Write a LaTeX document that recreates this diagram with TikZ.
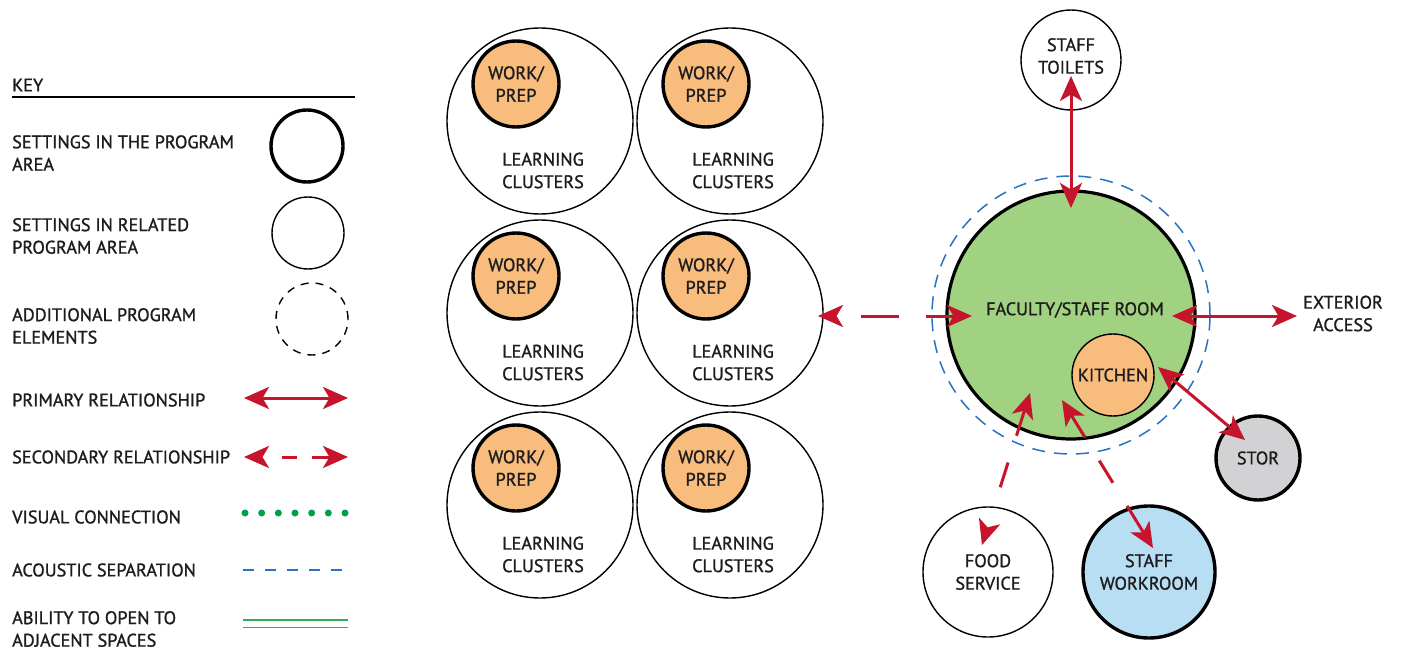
\documentclass[tikz,border=0pt]{standalone}
\usepackage{fontspec}
\setmainfont{PT Sans}
\newfontfamily\lblfam{PT Sans}[FakeBold=1.2]
\usetikzlibrary{arrows.meta,calc}
\definecolor{arrred}{RGB}{198,20,44}
\definecolor{facgreen}{RGB}{160,210,130}
\definecolor{wporange}{RGB}{248,188,124}
\definecolor{wrblue}{RGB}{184,222,244}
\definecolor{storgray}{RGB}{210,210,213}
\definecolor{acblue}{RGB}{40,115,195}
\definecolor{visgreen}{RGB}{0,160,75}
\definecolor{opengreen}{RGB}{50,175,85}
\definecolor{txt}{RGB}{30,28,28}
\newcommand\lblfont{\lblfam\fontsize{18.2}{22.5}\selectfont}
\tikzset{
  circbase/.style={circle, draw=black, inner sep=0pt, text=txt, font=\lblfont, align=center},
  thincirc/.style={circbase, line width=1.4pt, minimum size=#1},
  thickcirc/.style={circbase, line width=3.4pt, minimum size=#1},
  lbl/.style={font=\lblfont, text=txt, inner sep=0pt, align=center},
  keytext/.style={lbl, align=left, anchor=west},
  prim/.style={draw=arrred, line width=3pt,
    {Stealth[length=25pt,width=22pt,inset=6.5pt]}-{Stealth[length=25pt,width=22pt,inset=6.5pt]}},
  sec/.style={prim, dash pattern={#1}},
}
\begin{document}
\begin{tikzpicture}[x=1pt,y=-1pt]
\fill[white] (0,0) rectangle (1401,650);
\useasboundingbox (0,0) rectangle (1401,650);

% ---------- KEY ----------
\node[keytext] (keyT) at (12,85) {KEY};
\draw[line width=2pt, black] (12,97.5) -- (355,97.5);
\node[keytext] (k1) at (12,153) {SETTINGS IN THE PROGRAM\\AREA};
\node[thickcirc=72pt] (k1c) at (307,146) {};
\node[keytext] (k2) at (12,236) {SETTINGS IN RELATED\\PROGRAM AREA};
\node[thincirc=72pt] (k2c) at (308,233) {};
\node[keytext] (k3) at (12,326) {ADDITIONAL PROGRAM\\ELEMENTS};
\node[thincirc=72pt, dash pattern=on 8pt off 7pt] (k3c) at (312,319) {};
\node[keytext] (k4) at (12,400) {PRIMARY RELATIONSHIP};
\coordinate (k4a) at (244,398); \coordinate (k4b) at (348,398);
\draw[prim] (k4a) -- (k4b);
\node[keytext] (k5) at (12,457) {SECONDARY RELATIONSHIP};
\coordinate (k5a) at (244,457); \coordinate (k5b) at (348,457);
\draw[sec={on 0pt off 20pt on 15pt off 15pt on 100pt}] (k5a) -- (k5b);
\node[keytext] (k6) at (12,517) {VISUAL CONNECTION};
\coordinate (k6a) at (245,513); \coordinate (k6b) at (345.5,513);
\draw[visgreen, line width=7pt, line cap=round, dash pattern=on 0pt off 16.667pt] (k6a) -- (k6b);
\node[keytext] (k7) at (12,570) {ACOUSTIC SEPARATION};
\coordinate (k7a) at (243,570); \coordinate (k7b) at (348,570);
\draw[acblue, line width=1.3pt, dash pattern=on 11pt off 11pt] (k7a) -- (k7b);
\node[keytext] (k8) at (12,629) {ABILITY TO OPEN TO\\ADJACENT SPACES};
\coordinate (k8a) at (243,620); \coordinate (k8b) at (348,620);
\coordinate (k8c) at (243,627.5); \coordinate (k8d) at (348,627.5);
\draw[opengreen, line width=1.5pt] (k8a) -- (k8b);
\draw[opengreen, line width=1.5pt] (k8c) -- (k8d);

% ---------- LEARNING CLUSTERS ----------
\foreach \r/\y in {1/121,2/313,3/505}{
  \foreach \c/\x in {1/540,2/730}{
    \node[thincirc=186pt] (c\r\c) at (\x,\y) {};
    \node[thickcirc=86pt, fill=wporange] (w\r\c) at ($(c\r\c)+(-24,-37)$) {WORK/\\PREP};
    \node[lbl] (t\r\c) at ($(c\r\c)+(3,49.5)$) {LEARNING\\CLUSTERS};
  }
}

% ---------- FACULTY / STAFF ----------
\node[circle, draw=acblue, line width=1.5pt, dash pattern=on 13pt off 9pt, minimum size=278pt, inner sep=0pt] (acou) at (1071,315) {};
\node[thickcirc=248pt, line width=3.2pt, fill=facgreen] (fac) at (1071,315) {};
\node[lbl] (facT) at (1075,310) {FACULTY/STAFF ROOM};
\node[thincirc=82pt, fill=wporange] (kit) at (1113,375) {KITCHEN};
\node[thincirc=100pt] (toil) at (1071,60) {};
\node[lbl] (toilT) at (1071,56) {STAFF\\TOILETS};
\node[thickcirc=84pt, fill=storgray] (stor) at (1258,458) {STOR};
\node[thincirc=130pt] (food) at (988,572) {FOOD\\SERVICE};
\node[thickcirc=132pt, fill=wrblue] (work) at (1149,572) {STAFF\\WORKROOM};
\node[lbl] (ext) at (1343,313.5) {EXTERIOR\\ACCESS};

% ---------- RELATIONSHIPS ----------
\draw[prim] ($(toil)+(0,16)$) -- ($(fac)+(0,-107)$);
\draw[prim] ($(fac)+(101,1)$) -- ($(ext.west)+(-6,2.5)$);
\draw[sec={on 0pt off 25pt on 38pt off 27pt on 100pt}] ($(c22)+(88,3)$) -- ($(fac)+(-99,1)$);
\draw[prim] ($(kit)+(45,-8)$) -- ($(stor)+(-13,-18)$);
\draw[sec={on 0pt off 43pt on 26pt off 28pt on 100pt}] ($(food)+(-6,-27)$) -- ($(fac)+(-41,78)$);
\draw[sec={on 32pt off 27pt on 26pt off 27pt on 100pt}] ($(work)+(4,-24)$) -- ($(fac)+(-9,85)$);
\end{tikzpicture}
\end{document}
